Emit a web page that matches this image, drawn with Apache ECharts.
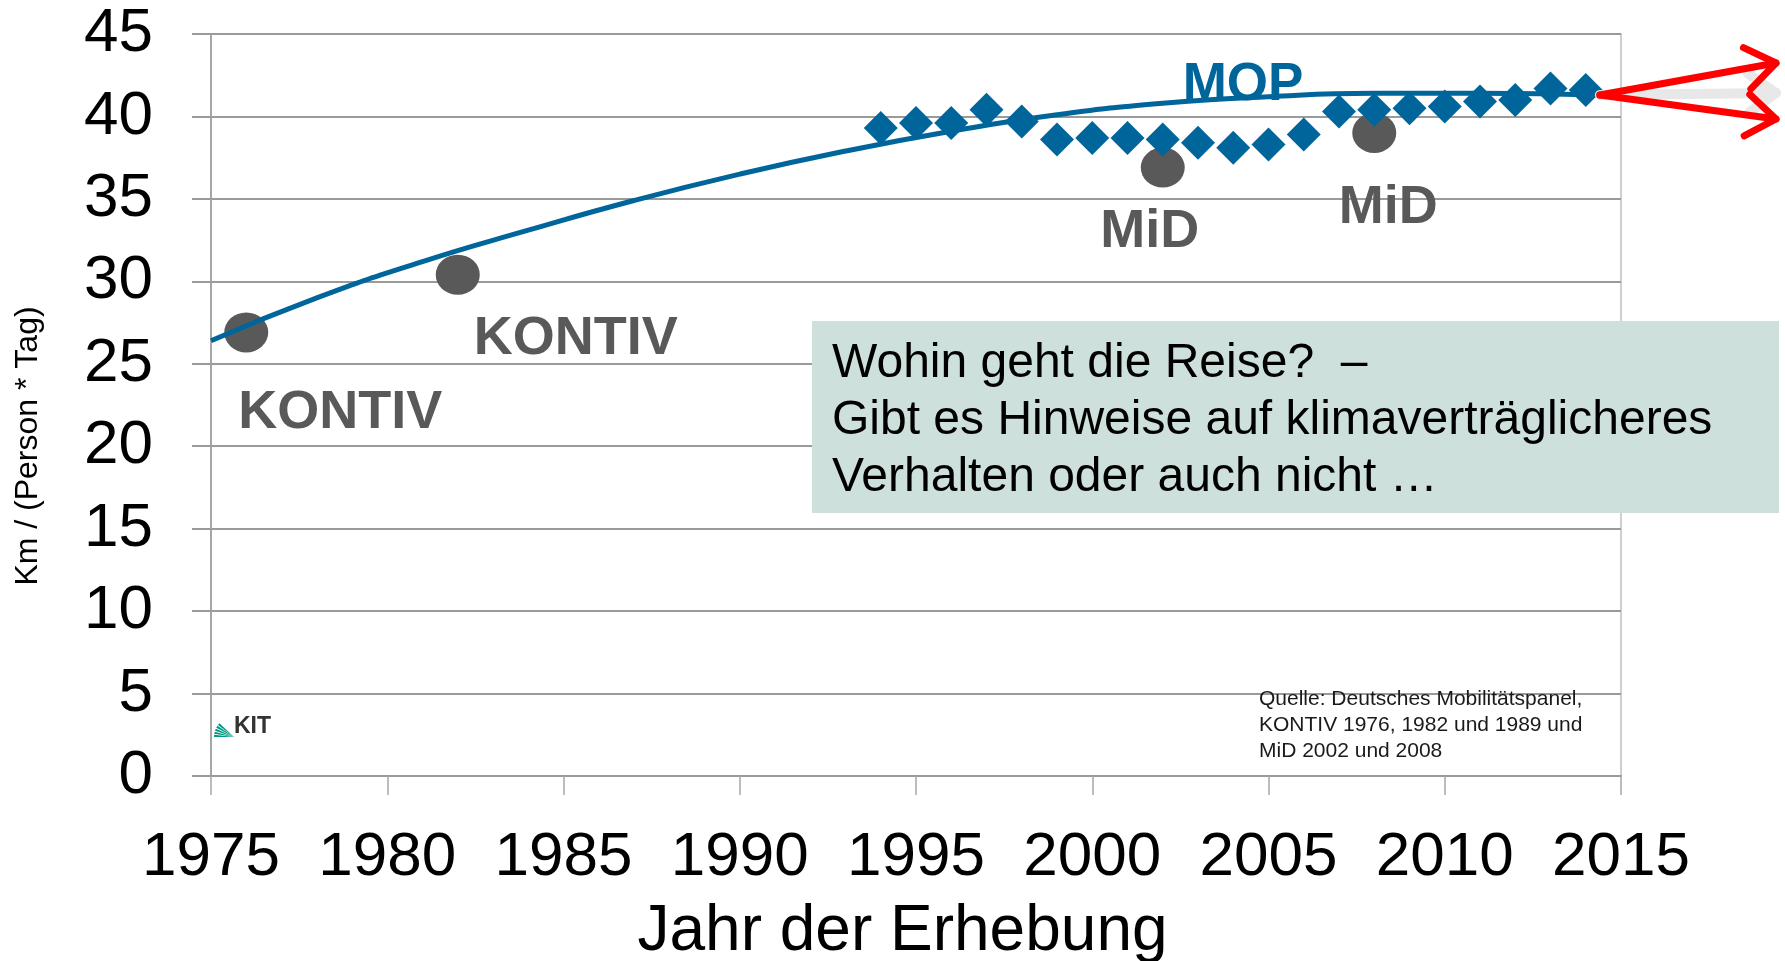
<!DOCTYPE html>
<html>
<head>
<meta charset="utf-8">
<script src="https://cdn.jsdelivr.net/npm/echarts@6/dist/echarts.min.js"></script>
<style>
html,body{margin:0;padding:0;background:#fff;}
#chart{width:1785px;height:961px;}
</style>
</head>
<body>
<div id="chart"></div>
<script>
// ---- data ----
const surveyYears = [1976, 1982, 2002, 2008];
const surveyValues = [26.9, 30.4, 36.9, 39.0];
const surveyNames = ['KONTIV', 'KONTIV', 'MiD', 'MiD'];

const mopYears = [1994, 1995, 1996, 1997, 1998, 1999, 2000, 2001, 2002, 2003, 2004,
                  2005, 2006, 2007, 2008, 2009, 2010, 2011, 2012, 2013, 2014];
const mopValues = [39.3, 39.6, 39.6, 40.4, 39.7, 38.6, 38.7, 38.7, 38.6, 38.4, 38.1,
                   38.3, 38.9, 40.3, 40.4, 40.5, 40.6, 40.9, 41.0, 41.7, 41.6];
const mopName = 'MOP';

const trendYears = [1975, 1978, 1981, 1984, 1987, 1990, 1993, 1996, 1999, 2002, 2005, 2008, 2011, 2014.4];
const trendValues = [26.4, 29.0, 31.2, 33.1, 34.9, 36.5, 37.9, 39.1, 40.1, 40.8, 41.2, 41.4, 41.4, 41.3];

const xAxisTitle = 'Jahr der Erhebung';
const yAxisTitle = 'Km / (Person * Tag)';
const boxLines = ['Wohin geht die Reise?  \u2013', 'Gibt es Hinweise auf klimaverträglicheres', 'Verhalten oder auch nicht \u2026'];
const sourceLines = ['Quelle: Deutsches Mobilitätspanel,', 'KONTIV 1976, 1982 und 1989 und', 'MiD 2002 und 2008'];

// ---- styling ----
const FONT = "'Liberation Sans', Arial, Helvetica, sans-serif";
const BLUE = '#00659A';
const DOT = '#595959';
const GRID = '#9A9A9A';

const surveyLabelOffsets = [[94, 81], [118, 64], [-13, 65], [14, 75]];
const mopLabelIndex = mopYears.indexOf(2003);

const chart = echarts.init(document.getElementById('chart'));

const surveyData = surveyYears.map((y, i) => ({
  value: [y, surveyValues[i]],
  label: {
    show: true, position: 'inside', formatter: surveyNames[i],
    offset: surveyLabelOffsets[i],
    fontFamily: FONT, fontWeight: 'bold', fontSize: 54, color: DOT
  }
}));

const mopData = mopYears.map((y, i) => {
  const d = { value: [y, mopValues[i]] };
  if (i === mopLabelIndex) {
    d.label = {
      show: true, position: 'inside', formatter: mopName, offset: [45, -57],
      fontFamily: FONT, fontWeight: 'bold', fontSize: 53, color: BLUE
    };
  }
  return d;
});

const option = {
  animation: false,
  backgroundColor: '#fff',
  grid: {
    left: 211, right: 164, top: 34, bottom: 185, containLabel: false, outerBoundsMode: 'none',
    show: true, borderColor: '#C0C0C0', borderWidth: 1.5
  },
  xAxis: {
    type: 'value', min: 1975, max: 2015, interval: 5,
    name: xAxisTitle, nameLocation: 'middle', nameGap: 124,
    nameTextStyle: { fontFamily: FONT, fontSize: 64, color: '#000', padding: [0, 27, 0, 0] },
    axisLine: { show: true, onZero: false, lineStyle: { color: GRID, width: 2 } },
    axisTick: { show: true, inside: false, length: 19, lineStyle: { color: '#A6A6A6', width: 1.5 } },
    axisLabel: { margin: 51, fontFamily: FONT, fontSize: 62, color: '#000', formatter: v => String(v) },
    splitLine: { show: false }
  },
  yAxis: {
    type: 'value', min: 0, max: 45, interval: 5,
    axisLine: { show: true, lineStyle: { color: '#A6A6A6', width: 2 } },
    axisTick: { show: true, inside: false, length: 19, lineStyle: { color: GRID, width: 2 } },
    axisLabel: { margin: 58, fontFamily: FONT, fontSize: 62, color: '#000' },
    splitLine: { show: true, lineStyle: { color: GRID, width: 2 } }
  },
  series: [
    {
      type: 'scatter', name: 'Erhebungen', data: surveyData,
      symbol: 'circle', symbolSize: [44, 40],
      itemStyle: { color: DOT, opacity: 1 }, z: 3
    },
    {
      type: 'scatter', name: mopName, data: mopData,
      symbol: 'diamond', symbolSize: [34, 34],
      itemStyle: { color: BLUE, opacity: 1 }, z: 4
    },
    {
      type: 'line', name: 'Trend', data: trendYears.map((y, i) => [y, trendValues[i]]),
      showSymbol: false, symbol: 'none', smooth: 0.5,
      lineStyle: { color: BLUE, width: 5 }, z: 5, silent: true
    }
  ]
};
chart.setOption(option);

// ---- annotations ----
function arrow(s, e, color, width, head) {
  const ang = Math.atan2(e[1] - s[1], e[0] - s[0]);
  const a1 = ang + Math.PI - 0.62, a2 = ang + Math.PI + 0.62;
  const p1 = [e[0] + head * Math.cos(a1), e[1] + head * Math.sin(a1)];
  const p2 = [e[0] + head * Math.cos(a2), e[1] + head * Math.sin(a2)];
  const st = { stroke: color, lineWidth: width, lineCap: 'round', lineJoin: 'round', fill: null };
  return [
    { type: 'line', shape: { x1: s[0], y1: s[1], x2: e[0], y2: e[1] }, style: st, z: 10 },
    { type: 'polyline', shape: { points: [p1, e, p2] }, style: st, z: 10 }
  ];
}

const start = chart.convertToPixel({ gridIndex: 0 }, [trendYears[trendYears.length - 1], trendValues[trendValues.length - 1]]);
const tipX = 1776;
const graphics = [];
graphics.push(...arrow(start, [tipX, start[1] - 2], '#E8E8E8', 10, 34));
graphics.push(...arrow(start, [tipX, start[1] - 32], '#FF0000', 7, 36));
graphics.push(...arrow(start, [tipX, start[1] + 24], '#FF0000', 7, 36));

// text box
graphics.push({ type: 'rect', shape: { x: 812, y: 321, width: 967, height: 192 }, style: { fill: '#CDE0DB' }, z: 20 });
graphics.push({
  type: 'text', x: 832, y: 335, z: 21,
  style: { text: boxLines.join('\n'), fontFamily: FONT, fontSize: 48, lineHeight: 57, fill: '#000', align: 'left', verticalAlign: 'top' }
});

// source
graphics.push({
  type: 'text', x: 1259, y: 686, z: 21,
  style: { text: sourceLines.join('\n'), fontFamily: FONT, fontSize: 21, lineHeight: 26, fill: '#1a1a1a', align: 'left', verticalAlign: 'top' }
});

// y-axis title
graphics.push({
  type: 'text', x: 28, y: 446, rotation: Math.PI / 2, z: 21,
  style: { text: yAxisTitle, fontFamily: FONT, fontSize: 32, fill: '#000', align: 'center', verticalAlign: 'middle' }
});

// KIT logo
const pv = [234, 737];
for (let k = 0; k < 5; k++) {
  const a0 = Math.PI + k * 0.16, a1 = a0 + 0.11;
  const r = 20;
  graphics.push({
    type: 'polygon', z: 21,
    shape: { points: [pv, [pv[0] + r * Math.cos(a0), pv[1] + r * Math.sin(a0)], [pv[0] + r * Math.cos(a1), pv[1] + r * Math.sin(a1)]] },
    style: { fill: '#009682' }
  });
}
graphics.push({
  type: 'text', x: 234, y: 738, z: 21,
  style: { text: 'KIT', fontFamily: FONT, fontSize: 23, fontWeight: 'bold', fill: '#333', align: 'left', verticalAlign: 'bottom' }
});

chart.setOption({ graphic: graphics });
</script>
</body>
</html>
